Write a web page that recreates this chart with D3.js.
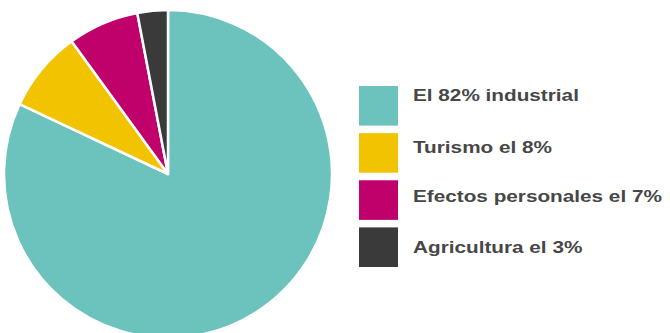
<!DOCTYPE html>
<html><head><meta charset="utf-8">
<script src="https://cdn.jsdelivr.net/npm/d3@7"></script>
<style>body{margin:0;background:#fff}svg{display:block}</style>
</head><body>
<svg id="c" width="670" height="333"></svg>
<script>
const categories = ["El 82% industrial", "Turismo el 8%", "Efectos personales el 7%", "Agricultura el 3%"];
const values = [82, 8, 7, 3];
const colors = ["#6cc3bd", "#f2c300", "#c0006b", "#3a3a3a"];
const legendBaselines = [101, 153, 202, 253];

const svg = d3.select("#c");
const pie = d3.pie().sort(null).value(d => d)(values);
const arc = d3.arc().innerRadius(0).outerRadius(164);
const g = svg.append("g").attr("transform", "translate(168,174)");
g.selectAll("path").data(pie).join("path")
  .attr("d", arc)
  .attr("fill", (d, i) => colors[i])
  .attr("stroke", "#fff").attr("stroke-width", 2.5).attr("stroke-linejoin", "round");

const y = d3.scaleBand().domain(categories).range([86, 267]).paddingInner(0.16);
const lg = svg.append("g");
lg.selectAll("rect").data(categories).join("rect")
  .attr("x", 359).attr("y", d => y(d)).attr("width", 39).attr("height", y.bandwidth())
  .attr("fill", (d, i) => colors[i]);
const tg = lg.append("g").attr("transform", "translate(413,0) scale(1.22,1)");
tg.selectAll("text").data(categories).join("text")
  .attr("x", 0).attr("y", (d, i) => legendBaselines[i])
  .attr("font-family", "Liberation Sans, Arial, sans-serif")
  .attr("font-weight", "bold").attr("font-size", 17).attr("fill", "#474747")
  .text(d => d);
</script>
</body></html>
